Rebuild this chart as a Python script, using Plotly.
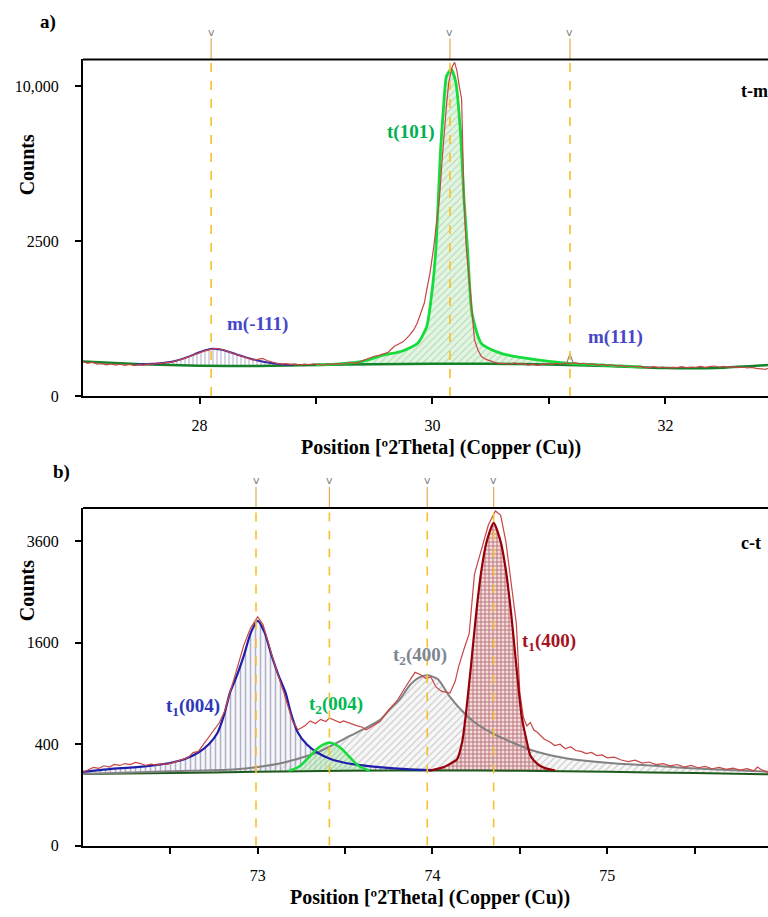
import numpy as np
import plotly.graph_objects as go

# ---------------- Panel a) t-m  (2Theta, counts) ----------------
a_obs_x = [27.00, 27.04, 27.08, 27.12, 27.16, 27.20, 27.24, 27.28, 27.32, 27.36, 27.40, 27.44, 27.48, 27.52,
           27.56, 27.60, 27.64, 27.68, 27.72, 27.76, 27.80, 27.84, 27.88, 27.92, 27.96, 28.00, 28.04, 28.08,
           28.12, 28.15, 28.18, 28.22, 28.26, 28.30, 28.34, 28.38, 28.42, 28.46, 28.50, 28.54, 28.58, 28.62,
           28.66, 28.70, 28.74, 28.78, 28.82, 28.86, 28.90, 28.94, 28.98, 29.02, 29.06, 29.10, 29.14, 29.18,
           29.22, 29.26, 29.30, 29.34, 29.38, 29.42, 29.46, 29.50, 29.54, 29.58, 29.62, 29.67, 29.71, 29.75,
           29.80, 29.84, 29.87, 29.90, 29.93, 29.95, 29.98, 30.01, 30.04, 30.06, 30.08, 30.10, 30.12, 30.14,
           30.17, 30.19, 30.21, 30.23, 30.25, 30.27, 30.29, 30.31, 30.33, 30.36, 30.39, 30.42, 30.46, 30.50,
           30.54, 30.58, 30.62, 30.66, 30.70, 30.74, 30.78, 30.82, 30.86, 30.90, 30.94, 30.98, 31.02, 31.06,
           31.10, 31.14, 31.18, 31.22, 31.26, 31.30, 31.34, 31.38, 31.42, 31.46, 31.50, 31.54, 31.58, 31.62,
           31.66, 31.70, 31.74, 31.78, 31.82, 31.86, 31.90, 31.94, 31.98, 32.02, 32.06, 32.10, 32.14, 32.18,
           32.22, 32.26, 32.30, 32.34, 32.38, 32.42, 32.46, 32.50, 32.54, 32.58, 32.62, 32.66, 32.70, 32.74,
           32.78, 32.82, 32.86, 32.88]
a_obs_counts = [125, 112, 120, 106, 110, 102, 108, 100, 106, 98, 104, 96, 103, 100,
                108, 104, 114, 110, 120, 118, 130, 138, 150, 165, 180, 198, 210, 222,
                232, 238, 228, 218, 200, 186, 170, 155, 145, 135, 140, 148, 132, 120,
                112, 106, 110, 104, 108, 100, 106, 102, 108, 104, 100, 108, 104, 110,
                106, 114, 118, 112, 124, 140, 150, 165, 172, 189, 200, 255, 280, 309,
                380, 458, 560, 703, 900, 1168, 1600, 2297, 3300, 4083, 5600, 7277, 8800, 10256,
                11300, 11594, 11000, 10000, 9186, 4083, 2297, 1600, 1020, 331, 220, 163, 140, 125,
                116, 110, 112, 104, 114, 106, 110, 100, 106, 98, 104, 110, 104, 112,
                106, 114, 110, 116, 108, 112, 104, 108, 100, 104, 98, 102, 94, 98,
                90, 94, 88, 92, 86, 84, 90, 84, 88, 82, 86, 84, 90, 84,
                88, 86, 92, 86, 90, 94, 88, 92, 86, 90, 84, 88, 82, 86,
                80, 78, 74, 80]

a_bg_x = [27.0, 27.5, 28.0, 28.5, 29.0, 29.5, 30.0, 30.5, 31.0, 31.5, 32.0, 32.5, 32.88]
a_bg_counts = [125, 106, 95, 94, 100, 106, 108, 108, 104, 94, 82, 84, 100]

a_m111n_x = [27.45, 27.60, 27.70, 27.80, 27.90, 28.00, 28.06, 28.12, 28.18, 28.25, 28.32, 28.40, 28.50, 28.60, 28.70, 28.80]
a_m111n_counts = [104, 108, 116, 130, 160, 200, 222, 234, 226, 205, 180, 156, 132, 116, 106, 100]

a_t101_x = [29.00, 29.20, 29.40, 29.58, 29.73, 29.87, 29.95, 30.00, 30.03, 30.07, 30.10, 30.12, 30.16, 30.20,
            30.24, 30.27, 30.30, 30.34, 30.42, 30.59, 30.87, 31.17, 31.50, 31.80]
a_t101_counts = [102, 108, 125, 175, 207, 287, 500, 1235, 2297, 6380, 9186, 10650, 11115, 10256,
                 7277, 4083, 2297, 703, 287, 189, 140, 111, 98, 88]

a_m111_x = [31.15, 31.18, 31.21]
a_m111_counts = [104, 180, 104]

a_ref = [28.10, 30.15, 31.18]
a_xticks = [28, 30, 32]
a_xminor = [29, 31]
a_yticks = [0, 2500, 10000]
a_yticktext = ["0", "2500", "10,000"]

# ---------------- Panel b) c-t ----------------
b_obs_x = [72.00, 72.03, 72.06, 72.09, 72.12, 72.15, 72.18, 72.21, 72.24, 72.27, 72.30, 72.33, 72.36, 72.39,
           72.42, 72.45, 72.48, 72.51, 72.54, 72.57, 72.60, 72.63, 72.66, 72.69, 72.73, 72.76, 72.78, 72.81,
           72.84, 72.88, 72.92, 72.96, 73.00, 73.03, 73.06, 73.10, 73.15, 73.20, 73.23, 73.27, 73.30, 73.33,
           73.36, 73.39, 73.41, 73.44, 73.47, 73.49, 73.52, 73.55, 73.57, 73.60, 73.62, 73.66, 73.70, 73.75,
           73.80, 73.84, 73.87, 73.90, 73.93, 73.96, 73.99, 74.02, 74.05, 74.08, 74.10, 74.13, 74.15, 74.18,
           74.21, 74.24, 74.28, 74.32, 74.36, 74.39, 74.42, 74.45, 74.48, 74.50, 74.52, 74.54, 74.56, 74.58,
           74.60, 74.62, 74.64, 74.67, 74.70, 74.73, 74.76, 74.79, 74.82, 74.85, 74.88, 74.91, 74.94, 74.97,
           75.00, 75.04, 75.08, 75.12, 75.16, 75.20, 75.24, 75.28, 75.32, 75.36, 75.40, 75.44, 75.48, 75.52,
           75.56, 75.60, 75.64, 75.68, 75.72, 75.76, 75.80, 75.84, 75.86, 75.88, 75.92]
b_obs_counts = [209, 225, 238, 232, 248, 240, 257, 250, 262, 255, 269, 262, 250, 258,
                252, 262, 257, 266, 280, 289, 300, 337, 345, 400, 470, 540, 587, 700,
                905, 1200, 1560, 1850, 2035, 1900, 1600, 1250, 905, 600, 522, 560, 605, 580,
                620, 600, 635, 610, 590, 605, 585, 570, 558, 545, 522, 560, 600, 720,
                824, 960, 1064, 1168, 1140, 1090, 1110, 980, 928, 915, 905, 1050, 1250, 1500,
                1747, 2863, 3400, 4004, 4358, 4250, 3595, 2700, 1914, 905, 640, 558, 590, 520,
                500, 470, 440, 420, 390, 400, 365, 380, 352, 345, 330, 338, 315, 320,
                300, 305, 285, 275, 284, 265, 272, 255, 262, 248, 256, 240, 250, 236,
                244, 230, 238, 226, 234, 222, 230, 218, 240, 225, 209]

b_bg_x = [72.0, 72.5, 73.0, 73.5, 74.0, 74.5, 75.0, 75.5, 75.92]
b_bg_counts = [200, 205, 212, 218, 220, 218, 212, 205, 198]

b_t1_004_x = [72.00, 72.15, 72.29, 72.40, 72.51, 72.58, 72.66, 72.72, 72.77, 72.81, 72.84, 72.88, 72.92, 72.96,
              73.00, 73.04, 73.08, 73.12, 73.16, 73.19, 73.23, 73.28, 73.34, 73.42, 73.49, 73.60, 73.71, 73.85, 74.00]
b_t1_004_counts = [212, 228, 238, 250, 269, 290, 337, 400, 496, 680, 905, 1120, 1400, 1760,
                   1966, 1760, 1400, 1120, 905, 680, 496, 400, 337, 290, 269, 250, 238, 228, 222]

b_t2_004_x = [73.18, 73.24, 73.29, 73.34, 73.38, 73.41, 73.44, 73.48, 73.53, 73.58, 73.64]
b_t2_004_counts = [218, 245, 300, 365, 400, 413, 400, 365, 300, 245, 218]

b_t2_400_x = [72.00, 72.50, 72.86, 73.00, 73.15, 73.34, 73.53, 73.62, 73.70, 73.76, 73.81, 73.87, 73.92, 73.97,
              74.03, 74.10, 74.17, 74.25, 74.37, 74.56, 74.74, 74.86, 75.05, 75.25, 75.45, 75.63, 75.92]
b_t2_400_counts = [200, 215, 226, 240, 269, 337, 470, 540, 615, 730, 824, 1000, 1095, 1128,
                   1080, 860, 705, 580, 470, 358, 302, 282, 262, 250, 235, 226, 212]

b_t1_400_x = [73.98, 74.06, 74.10, 74.14, 74.17, 74.19, 74.22, 74.25, 74.28, 74.31, 74.35, 74.39, 74.42, 74.45,
              74.48, 74.51, 74.54, 74.56, 74.60, 74.64, 74.70]
b_t1_400_counts = [218, 238, 260, 289, 420, 655, 1250, 2100, 2950, 3595, 4054, 3595, 2950, 2100,
                   1250, 655, 420, 316, 260, 235, 220]

b_ref = [72.99, 73.41, 73.97, 74.35]
b_xticks = [73, 74, 75]
b_xminor = [72.5, 73.5, 74.5, 75.5]
b_yticks = [0, 400, 1600, 3600]
b_yticktext = ["0", "400", "1600", "3600"]


def s(v):
    return np.sqrt(np.asarray(v, dtype=float))


def poly(px_, py_, bx, by):
    lo, hi = min(px_), max(px_)
    inner = [(x, y) for x, y in zip(bx, by) if lo < x < hi]
    xs = list(px_) + [x for x, _ in reversed(inner)]
    ys = list(py_) + [y for _, y in reversed(inner)]
    return xs, s(ys)


SERIF = "Liberation Serif"
fig = go.Figure()


def add_fill(px_, py_, bx, by, shape, fg, bg, size, solidity, xa, ya):
    xs, ys = poly(px_, py_, bx, by)
    fig.add_trace(go.Scatter(x=xs, y=ys, mode="lines", fill="toself",
                             line=dict(width=0, shape="spline", smoothing=0.6),
                             fillcolor=bg,
                             fillpattern=dict(shape=shape, fgcolor=fg, bgcolor=bg, size=size, solidity=solidity),
                             xaxis=xa, yaxis=ya, hoverinfo="skip", showlegend=False))


def add_line(x, y, color, width, xa, ya, spline=True):
    fig.add_trace(go.Scatter(x=x, y=s(y), mode="lines",
                             line=dict(color=color, width=width,
                                       shape="spline" if spline else "linear", smoothing=0.6),
                             xaxis=xa, yaxis=ya, showlegend=False, hoverinfo="skip"))


RED = "rgb(200,70,70)"

# ---- panel a ----
add_fill(a_m111n_x, a_m111n_counts, a_bg_x, a_bg_counts, "|", "rgb(115,115,170)", "rgba(255,255,255,0)", 4, 0.3, "x", "y")
add_fill(a_t101_x, a_t101_counts, a_bg_x, a_bg_counts, "/", "rgb(120,190,120)", "rgba(215,240,215,0.7)", 5, 0.2, "x", "y")
add_line(a_bg_x, a_bg_counts, "rgb(20,130,40)", 2.5, "x", "y")
add_line(a_m111_x, a_m111_counts, "rgb(130,130,130)", 1.2, "x", "y")
add_line(a_t101_x, a_t101_counts, "rgb(20,220,60)", 2.8, "x", "y")
add_line(a_m111n_x, a_m111n_counts, "rgb(60,40,170)", 2, "x", "y")
add_line(a_obs_x, a_obs_counts, RED, 1.2, "x", "y", spline=False)

# ---- panel b ----
add_fill(b_t2_400_x, b_t2_400_counts, b_bg_x, b_bg_counts, "/", "rgb(160,160,160)", "rgba(245,245,245,0.8)", 5, 0.22, "x2", "y2")
add_fill(b_t1_004_x, b_t1_004_counts, b_bg_x, b_bg_counts, "|", "rgb(105,105,150)", "rgba(240,240,248,0.5)", 5, 0.3, "x2", "y2")
add_fill(b_t2_004_x, b_t2_004_counts, b_bg_x, b_bg_counts, "/", "rgb(90,170,90)", "rgba(210,240,210,0.8)", 4, 0.25, "x2", "y2")
add_fill(b_t1_400_x, b_t1_400_counts, b_bg_x, b_bg_counts, "+", "rgb(125,15,25)", "rgba(245,220,220,0.9)", 4, 0.45, "x2", "y2")
add_line(b_bg_x, b_bg_counts, "rgb(30,90,30)", 2, "x2", "y2")
add_line(b_t2_400_x, b_t2_400_counts, "rgb(130,130,130)", 2, "x2", "y2")
add_line(b_t1_004_x, b_t1_004_counts, "rgb(30,30,170)", 2.2, "x2", "y2")
add_line(b_t2_004_x, b_t2_004_counts, "rgb(20,220,60)", 2.5, "x2", "y2")
add_line(b_obs_x, b_obs_counts, RED, 1.2, "x2", "y2", spline=False)
add_line(b_t1_400_x, b_t1_400_counts, "rgb(150,0,10)", 2.2, "x2", "y2")

# ---- reference lines & markers ----
shapes = []
annotations = []
ORANGE = "rgb(248,192,40)"
for xr, ya, refs in (("x", "y", a_ref), ("x2", "y2", b_ref)):
    for r in refs:
        shapes.append(dict(type="line", xref=xr, yref=ya + " domain", x0=r, x1=r, y0=0, y1=1,
                           line=dict(color=ORANGE, width=1.6, dash="dash"), layer="above"))
        shapes.append(dict(type="line", xref=xr, yref=ya + " domain", x0=r, x1=r, y0=1, y1=1.062,
                           line=dict(color="rgb(225,170,90)", width=1.2)))
        annotations.append(dict(x=r, y=1.08, xref=xr, yref=ya + " domain", text="v", showarrow=False,
                                font=dict(family="DejaVu Sans", size=11, color="rgb(130,130,130)"),
                                yanchor="middle"))
    shapes.append(dict(type="line", xref=xr + " domain", yref=ya + " domain", x0=0, x1=1, y0=1, y1=1,
                       line=dict(color="black", width=2)))

W, H = 768, 917


def px(x, y):
    return x / W, 1 - y / H


def ann(text, x, y, size, color="black", bold=True, angle=0, xanchor="center"):
    xp, yp = px(x, y)
    annotations.append(dict(x=xp, y=yp, xref="paper", yref="paper", showarrow=False,
                            text=f"<b>{text}</b>" if bold else text, textangle=angle,
                            xanchor=xanchor, yanchor="middle",
                            font=dict(family=SERIF, size=size, color=color)))


ann("a)", 48, 22, 19)
ann("b)", 61, 477, 19)
ann("Counts", 27, 167, 20, angle=-90)
ann("Counts", 27, 597, 20, angle=-90)
ann("Position [º2Theta] (Copper (Cu))", 441, 452, 20)
ann("Position [º2Theta] (Copper (Cu))", 430, 906, 20)
ann("t-m", 739, 92, 18, xanchor="left")
ann("c-t", 739, 548, 18, xanchor="left")
ann("t(101)", 410, 133, 19, color="rgb(0,175,80)")
ann("m(-111)", 257, 327, 19, color="rgb(70,70,200)")
ann("m(111)", 615, 340, 19, color="rgb(70,70,200)")
ann("t<sub>1</sub>(004)", 193, 714, 19, color="rgb(45,55,185)")
ann("t<sub>2</sub>(004)", 336, 712, 19, color="rgb(0,185,80)")
ann("t<sub>2</sub>(400)", 420, 663, 19, color="rgb(125,135,145)")
ann("t<sub>1</sub>(400)", 549, 648, 19, color="rgb(165,20,35)")

tickfont = dict(family=SERIF, size=16, color="black")
common_x = dict(showgrid=False, zeroline=False, showline=True, linewidth=2, linecolor="black",
                ticks="outside", ticklen=6, tickwidth=1.5, tickcolor="black", tickfont=tickfont,
                tickmode="array", ticklabelstandoff=8)
common_y = dict(showgrid=False, zeroline=False, showline=True, linewidth=2, linecolor="black",
                ticks="outside", ticklen=6, tickwidth=1.5, tickcolor="black", tickfont=tickfont,
                tickmode="array", ticklabelstandoff=13)

xd = [83 / W, 1.0]
fig.update_layout(
    width=W, height=H, margin=dict(l=0, r=0, t=0, b=0),
    paper_bgcolor="white", plot_bgcolor="white", showlegend=False, hovermode=False,
    xaxis=dict(domain=xd, anchor="y", range=[27.0, 32.88], tickvals=a_xticks,
               minor=dict(tickmode="array", tickvals=a_xminor, ticks="outside", ticklen=6,
                          tickwidth=1.5, tickcolor="black"),
               **common_x),
    yaxis=dict(domain=[1 - 400 / H, 1 - 60 / H], anchor="x", range=[0, 108.6],
               tickvals=list(s(a_yticks)), ticktext=a_yticktext, **common_y),
    xaxis2=dict(domain=xd, anchor="y2", range=[72.0, 75.92], tickvals=b_xticks,
                minor=dict(tickmode="array", tickvals=b_xminor, ticks="outside", ticklen=6,
                           tickwidth=1.5, tickcolor="black"),
                **common_x),
    yaxis2=dict(domain=[1 - 854 / H, 1 - 513 / H], anchor="x2", range=[0, 66.6],
                tickvals=list(s(b_yticks)), ticktext=b_yticktext, **common_y),
    shapes=shapes, annotations=annotations,
)

fig.write_html("out.html", config={"displayModeBar": False},
               post_script="document.body.style.margin='0px';document.body.style.overflow='hidden';")
